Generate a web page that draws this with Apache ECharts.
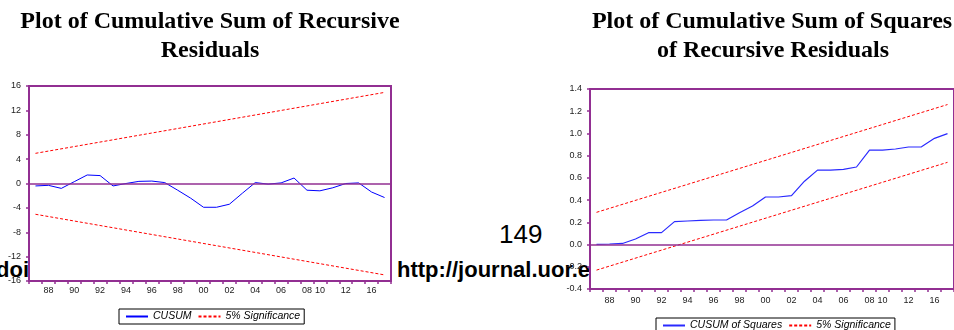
<!DOCTYPE html>
<html>
<head>
<meta charset="utf-8">
<script src="https://cdn.jsdelivr.net/npm/echarts@6/dist/echarts.min.js"></script>
<style>
html,body{margin:0;padding:0;background:#fff;overflow:hidden;}
#wrap{position:relative;width:954px;height:330px;}
#c{position:absolute;left:0;top:0;width:954px;height:330px;z-index:2;}
.under{position:absolute;z-index:1;white-space:nowrap;color:#000;font-family:"Liberation Sans",Arial,sans-serif;}
#pg{left:499px;top:221px;font-size:26px;line-height:26px;}
#doi{left:-4px;top:259.4px;font-size:22px;line-height:22px;font-weight:bold;}
#url{left:397px;top:259.4px;font-size:22px;line-height:22px;font-weight:bold;}
</style>
</head>
<body>
<div id="wrap">
  <div class="under" id="pg">149</div>
  <div class="under" id="doi">doi: 10.</div>
  <div class="under" id="url">http://journal.uor.edu</div>
  <div id="c"></div>
</div>
<script>
// observation labels (28 observations)
var categories = ['87','88','89','90','91','92','93','94','95','96','97','98','99','00',
  '01','02','03','04','05','06','07','08','10','11','12','14','16','17'];
var shownLabels = ['88','90','92','94','96','98','00','02','04','06','08','10','12','16'];

// CUSUM
var cusum = [-0.4,-0.3,-0.8,0.3,1.4,1.3,-0.4,0.0,0.35,0.4,0.15,-1.1,-2.4,-3.9,
  -3.9,-3.4,-1.6,0.15,-0.1,0.1,0.9,-1.1,-1.2,-0.7,0.0,0.1,-1.4,-2.3];
var cusumUpper = [4.95, 14.95];   // first / last observation
var cusumLower = [-5.05, -15.0];

// CUSUM of squares
var cusumSq = [0.002,0.005,0.01,0.05,0.107,0.107,0.206,0.212,0.218,0.221,0.221,0.287,0.347,0.428,
  0.428,0.44,0.57,0.67,0.67,0.677,0.698,0.85,0.85,0.86,0.878,0.88,0.956,0.998];
var sqUpper = [0.29, 1.26];
var sqLower = [-0.23, 0.74];

var leftTicks = {min:-16, max:16, interval:4};
var rightTicks = {min:-0.4, max:1.4, interval:0.2};

var purple = '#922f92';
var first = categories[0], last = categories[categories.length-1];

var grids = [
  {left:29, top:86, width:362, height:195},
  {left:590, top:89, width:365, height:200}
];

function xAxis(gi, margin){
  return {
    type:'category', gridIndex:gi, data:categories, boundaryGap:true, z:3,
    axisLine:{show:true, onZero:false, lineStyle:{color:purple, width:2}},
    axisTick:{show:true, interval:0, length:3, inside:false, lineStyle:{color:purple, width:1.5}},
    axisLabel:{interval:function(i,v){return shownLabels.indexOf(v)>=0;}, margin:margin,
      fontSize:9, color:'#222', fontFamily:'Liberation Sans'},
    splitLine:{show:false}
  };
}
function yAxis(gi, t, fmt){
  return {
    type:'value', gridIndex:gi, min:t.min, max:t.max, interval:t.interval, z:3,
    axisLine:{show:true, onZero:false, lineStyle:{color:purple, width:2}},
    axisTick:{show:true, length:3, lineStyle:{color:purple, width:1.5}},
    axisLabel:{margin:8, fontSize:9, color:'#222', fontFamily:'Liberation Sans', formatter:fmt},
    splitLine:{show:false}
  };
}
function zeroLine(){
  return {silent:true, symbol:['none','none'], label:{show:false},
    lineStyle:{color:purple, width:1.5, type:'solid'}, data:[{yAxis:0}], animation:false};
}
function pairs(vals){ return [[first, vals[0]], [last, vals[1]]]; }
var dashed = {color:'#ff0000', width:1, type:[3,2]};

var legendCommon = {
  selectedMode:false, orient:'horizontal', itemWidth:22, itemHeight:10, itemGap:6,
  borderColor:'#000', borderWidth:1, padding:[2,4,2,6], backgroundColor:'#fff',
  itemStyle:{opacity:0, color:'rgba(0,0,0,0)', borderWidth:0},
  textStyle:{fontStyle:'italic', fontSize:10.5, color:'#000', fontFamily:'Liberation Sans'}
};

var titleFont = 'bold 24px "Liberation Serif"';
var option = {
  animation:false,
  backgroundColor:'transparent',
  grid:[
    Object.assign({show:true, backgroundColor:'#fff', borderColor:purple, borderWidth:2}, grids[0]),
    Object.assign({show:true, backgroundColor:'#fff', borderColor:purple, borderWidth:2}, grids[1])
  ],
  xAxis:[xAxis(0,5), xAxis(1,7)],
  yAxis:[
    yAxis(0, leftTicks, function(v){return String(Math.round(v));}),
    yAxis(1, rightTicks, function(v){return v.toFixed(1);})
  ],
  legend:[
    Object.assign({}, legendCommon, {left:119, top:309, data:['CUSUM','5% Significance']}),
    Object.assign({}, legendCommon, {left:656, top:318, data:['CUSUM of Squares','5% Significance']})
  ],
  graphic:[
    {type:'text', style:{text:'Plot of Cumulative Sum of Recursive', x:210, y:22, textAlign:'center', textVerticalAlign:'middle', font:titleFont, fill:'#000'}},
    {type:'text', style:{text:'Residuals', x:210, y:51, textAlign:'center', textVerticalAlign:'middle', font:titleFont, fill:'#000'}},
    {type:'text', style:{text:'Plot of Cumulative Sum of Squares', x:772, y:22, textAlign:'center', textVerticalAlign:'middle', font:titleFont, fill:'#000'}},
    {type:'text', style:{text:'of Recursive Residuals', x:773, y:51, textAlign:'center', textVerticalAlign:'middle', font:titleFont, fill:'#000'}}
  ],
  series:[
    {name:'CUSUM', type:'line', xAxisIndex:0, yAxisIndex:0, data:cusum, symbol:'none', z:4,
      lineStyle:{color:'#0000ff', width:1}, itemStyle:{color:'#0000ff'}, markLine:zeroLine()},
    {name:'5% Significance', type:'line', xAxisIndex:0, yAxisIndex:0, data:pairs(cusumUpper), symbol:'none', z:4,
      lineStyle:dashed, itemStyle:{color:'#ff0000'}},
    {name:'5% Significance', type:'line', xAxisIndex:0, yAxisIndex:0, data:pairs(cusumLower), symbol:'none', z:4,
      lineStyle:dashed, itemStyle:{color:'#ff0000'}},
    {name:'CUSUM of Squares', type:'line', xAxisIndex:1, yAxisIndex:1, data:cusumSq, symbol:'none', z:4,
      lineStyle:{color:'#2a2aff', width:1.2}, itemStyle:{color:'#2a2aff'}, markLine:zeroLine()},
    {name:'5% Significance', type:'line', xAxisIndex:1, yAxisIndex:1, data:pairs(sqUpper), symbol:'none', z:4,
      lineStyle:dashed, itemStyle:{color:'#ff0000'}},
    {name:'5% Significance', type:'line', xAxisIndex:1, yAxisIndex:1, data:pairs(sqLower), symbol:'none', z:4,
      lineStyle:dashed, itemStyle:{color:'#ff0000'}}
  ]
};
var chart = echarts.init(document.getElementById('c'), null, {renderer:'canvas'});
chart.setOption(option);
</script>
</body>
</html>
